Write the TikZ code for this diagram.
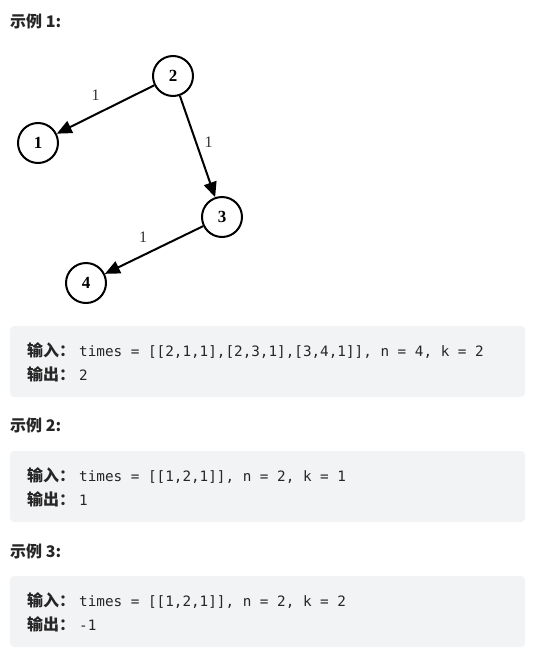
\documentclass[tikz,border=0pt]{standalone}
\usepackage{fontspec}
\setmainfont{Liberation Serif}
\setmonofont{DejaVu Sans Mono}
\newfontfamily\cjk{Noto Sans CJK SC}
\usetikzlibrary{arrows.meta}
\definecolor{boxgray}{HTML}{F2F3F5}
\definecolor{txt}{HTML}{262626}
\newcommand{\cnlbl}[1]{{\cjk\bfseries\fontsize{16}{16}\selectfont #1：}\hspace{4pt}}
\begin{document}
\begin{tikzpicture}[x=1pt,y=-1pt,
    vertex/.style={circle,draw,line width=2pt,minimum size=40pt,inner sep=0pt,font=\fontsize{17}{17}\selectfont\bfseries},
    edge/.style={line width=2pt,-{Triangle[length=15pt,width=13pt]}},
    wt/.style={inner sep=0pt,text=black!80,font=\fontsize{16}{16}\selectfont},
    codebox/.style={fill=boxgray,rounded corners=4pt},
    head/.style={anchor=base west,inner sep=0pt,text=txt,font=\cjk\bfseries\fontsize{16}{16}\selectfont},
    code/.style={anchor=base west,inner sep=0pt,text=txt,font=\ttfamily\fontsize{14.3}{14.3}\selectfont}]
    \useasboundingbox (0,0) rectangle (533,664);
    % example 1: graph
    \node[head] (h1) at (10,27) {示例 1:};
    \node[vertex] (v2) at (173,76) {2};
    \node[vertex] (v1) at (38,143) {1};
    \node[vertex] (v3) at (222,217) {3};
    \node[vertex] (v4) at (86,283) {4};
    \draw[edge] (v2) -- node[wt,midway,shift={(-10,-14)}] {1} (v1);
    \draw[edge] (v2) -- node[wt,midway,shift={(11,-4)}] {1} (v3);
    \draw[edge] (v3) -- node[wt,midway,shift={(-11,-13)}] {1} (v4);
    % code boxes
    \fill[codebox] (10,326) rectangle (525,397);
    \node[code] (in1) at (27,356) {\cnlbl{输入}times = [[2,1,1],[2,3,1],[3,4,1]], n = 4, k = 2};
    \node[code] (out1) at (27,380) {\cnlbl{输出}2};
    \node[head] (h2) at (10,431) {示例 2:};
    \fill[codebox] (10,451) rectangle (525,522);
    \node[code] (in2) at (27,481) {\cnlbl{输入}times = [[1,2,1]], n = 2, k = 1};
    \node[code] (out2) at (27,505) {\cnlbl{输出}1};
    \node[head] (h3) at (10,557) {示例 3:};
    \fill[codebox] (10,576) rectangle (525,647);
    \node[code] (in3) at (27,606) {\cnlbl{输入}times = [[1,2,1]], n = 2, k = 2};
    \node[code] (out3) at (27,630) {\cnlbl{输出}-1};
\end{tikzpicture}
\end{document}
